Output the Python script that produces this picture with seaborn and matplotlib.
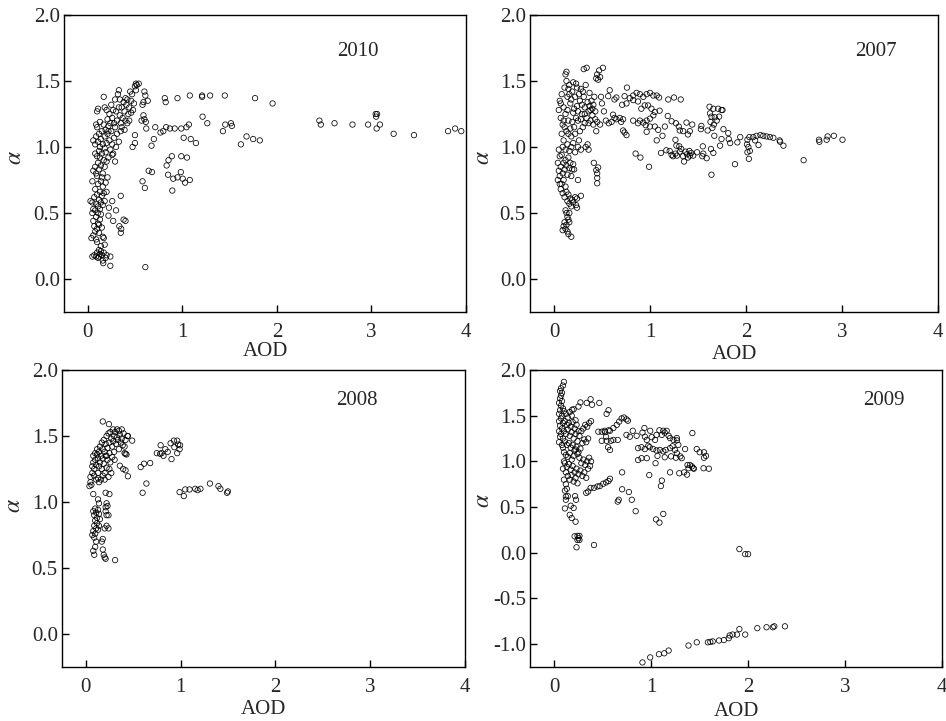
import numpy as np
import pandas as pd
import matplotlib
matplotlib.use("Agg")
import matplotlib.pyplot as plt
import seaborn as sns

# ---------------- data (AOD, alpha) ----------------
aod_2010 = [0.61, 0.24, 0.165, 0.24, 0.35, 0.26, 0.225, 0.30, 0.22, 0.27, 0.38, 0.40, 0.335, 0.355, 0.35,
            0.29, 0.58, 0.605, 0.645, 0.68, 0.675, 0.70, 0.475, 0.50, 0.50, 0.715, 0.62, 0.77, 0.80, 0.83,
            0.87, 0.92, 0.99, 1.045, 1.07, 0.815, 0.825, 0.95, 1.08, 1.21, 1.21, 1.295, 1.45, 1.77, 1.955,
            1.215, 1.265, 1.43, 1.455, 1.515, 1.525, 1.015, 1.09, 1.145, 1.62, 1.68, 1.75, 1.82, 0.835, 0.855,
            0.89, 0.99, 1.05, 0.985, 0.85, 0.905, 0.95, 1.005, 1.03, 1.08, 0.895, 2.45, 2.465, 2.61, 2.80,
            2.965, 3.045, 3.06, 3.05, 3.055, 3.09, 3.235, 3.45, 3.81, 3.885, 3.95, 0.59, 0.58, 0.59, 0.60,
            0.57, 0.615, 0.60, 0.61, 0.635, 0.54, 0.51,
            0.07, 0.09, 0.10, 0.11, 0.12, 0.13, 0.14, 0.15, 0.17, 0.19, 0.12, 0.16, 0.18, 0.20, 0.05, 0.14,
            0.04, 0.06, 0.08, 0.09, 0.10, 0.11, 0.07, 0.12, 0.13, 0.09, 0.06, 0.15, 0.16, 0.14, 0.11, 0.08,
            0.05, 0.10, 0.17, 0.12,
            0.03, 0.05, 0.06, 0.07, 0.09, 0.10, 0.11, 0.12, 0.13, 0.14, 0.15, 0.16, 0.17, 0.18, 0.08, 0.11,
            0.14, 0.19, 0.13, 0.20, 0.05, 0.10, 0.16,
            0.06, 0.08, 0.09, 0.11, 0.12, 0.13, 0.14, 0.15, 0.16, 0.17, 0.18, 0.19, 0.20, 0.21, 0.10, 0.12,
            0.22, 0.08, 0.15, 0.18,
            0.06, 0.08, 0.09, 0.10, 0.11, 0.12, 0.13, 0.14, 0.15, 0.16, 0.17, 0.18, 0.19, 0.20, 0.21, 0.22,
            0.23, 0.24, 0.25, 0.26, 0.27, 0.28, 0.29, 0.30, 0.31, 0.33, 0.35, 0.26, 0.09, 0.13,
            0.10, 0.11, 0.17, 0.18, 0.20, 0.21, 0.23, 0.25, 0.26, 0.28, 0.30, 0.31, 0.32, 0.33, 0.33, 0.34,
            0.35, 0.36, 0.37, 0.38, 0.39, 0.40, 0.41, 0.42, 0.43, 0.44, 0.45, 0.46, 0.47, 0.48, 0.49, 0.50,
            0.51, 0.52, 0.36, 0.39, 0.42, 0.44, 0.29, 0.27, 0.24, 0.22, 0.34, 0.40, 0.46]
alpha_2010 = [0.09, 0.10, 0.12, 0.17, 0.63, 0.59, 0.54, 0.52, 0.48, 0.44, 0.45, 0.44, 0.40, 0.38, 0.35,
              0.89, 0.74, 0.69, 0.82, 0.81, 1.01, 1.06, 1.00, 1.03, 1.09, 1.15, 1.14, 1.11, 1.12, 1.15,
              1.14, 1.14, 1.14, 1.15, 1.17, 1.37, 1.34, 1.37, 1.39, 1.38, 1.39, 1.39, 1.39, 1.37, 1.33,
              1.23, 1.18, 1.12, 1.17, 1.18, 1.16, 1.07, 1.06, 1.03, 1.02, 1.08, 1.06, 1.05, 0.86, 0.90,
              0.93, 0.93, 0.92, 0.81, 0.79, 0.76, 0.77, 0.76, 0.73, 0.75, 0.67, 1.20, 1.17, 1.18, 1.17,
              1.17, 1.25, 1.25, 1.23, 1.14, 1.17, 1.10, 1.09, 1.12, 1.14, 1.12, 1.34, 1.32, 1.24, 1.21,
              1.20, 1.19, 1.42, 1.39, 1.35, 1.48, 1.48,
              0.18, 0.17, 0.20, 0.16, 0.22, 0.19, 0.25, 0.18, 0.20, 0.16, 0.17, 0.14, 0.26, 0.18, 0.17, 0.21,
              0.31, 0.33, 0.36, 0.30, 0.38, 0.42, 0.40, 0.35, 0.45, 0.47, 0.44, 0.39, 0.32, 0.49, 0.50, 0.52,
              0.50, 0.28, 0.31, 0.41,
              0.59, 0.58, 0.53, 0.62, 0.57, 0.64, 0.55, 0.60, 0.66, 0.58, 0.63, 0.70, 0.65, 0.59, 0.68, 0.72,
              0.74, 0.73, 0.53, 0.66, 0.74, 0.78, 0.56,
              0.82, 0.85, 0.80, 0.88, 0.83, 0.92, 0.86, 0.95, 0.80, 0.90, 0.85, 0.96, 0.89, 0.77, 0.93, 0.97,
              0.92, 0.95, 0.77, 0.99,
              1.05, 1.02, 1.08, 1.15, 1.04, 1.10, 1.00, 1.06, 1.12, 1.02, 1.17, 1.08, 1.13, 1.03, 1.10, 1.16,
              1.05, 0.98, 1.12, 1.02, 0.95, 1.07, 1.15, 1.00, 1.10, 1.04, 1.12, 0.94, 1.17, 1.19,
              1.27, 1.29, 1.38, 1.30, 1.28, 1.21, 1.25, 1.32, 1.22, 1.18, 1.27, 1.20, 1.40, 1.43, 1.30, 1.24,
              1.18, 1.30, 1.22, 1.34, 1.27, 1.20, 1.32, 1.36, 1.25, 1.30, 1.42, 1.35, 1.40, 1.28, 1.33, 1.46,
              1.43, 1.47, 1.15, 1.13, 1.18, 1.20, 1.36, 1.28, 1.18, 1.12, 1.36, 1.37, 1.26]

aod_2007 = [3.005, 2.915, 2.85, 2.84, 2.76, 2.765, 2.60, 2.39, 2.355, 2.35, 2.285, 2.215, 2.18, 2.15, 2.11,
            2.075, 2.035, 2.015, 2.01, 2.025, 2.04, 2.015, 2.03, 2.13, 2.095, 2.25, 1.91, 1.94, 1.885, 1.835,
            1.82, 1.815, 1.765, 1.745, 1.73, 1.64, 1.66, 1.635, 1.59, 1.55, 1.555, 1.545, 1.60, 1.535, 1.67,
            1.62, 1.66, 1.71, 1.745, 1.755, 1.625, 1.64, 1.675, 1.72, 1.63, 1.665, 1.695, 1.65,
            1.115, 1.17, 1.205, 1.225, 1.24, 1.265, 1.28, 1.31, 1.325, 1.345, 1.355, 1.37, 1.385, 1.395, 1.415,
            1.43, 1.45, 1.49, 1.275, 1.265, 1.305, 1.41,
            0.99, 0.85, 0.90, 1.07, 1.13, 1.155, 1.185, 1.19, 1.25, 1.32, 1.225, 1.27, 1.31, 1.345, 1.38,
            1.395, 1.415, 1.44, 1.53, 1.30,
            0.76, 0.735, 0.79, 0.825, 0.86, 0.895, 0.93, 0.965, 1.0, 1.035, 1.07, 1.095, 0.71, 0.755, 0.825,
            0.875, 0.91, 0.945, 0.98, 1.015, 1.05, 1.10, 1.035, 1.0, 0.965, 0.93, 0.895, 0.955, 1.0, 0.965,
            1.05, 1.085, 0.875, 0.825, 0.72, 0.70, 0.72, 0.735, 0.755, 0.685, 0.65, 0.615, 0.63, 0.65, 0.58,
            0.565,
            0.415, 0.44, 0.46, 0.45, 0.45, 0.45, 0.44,
            0.05, 0.06, 0.04, 0.07, 0.05, 0.06, 0.04, 0.08, 0.07, 0.09, 0.10, 0.11, 0.12, 0.13, 0.14, 0.15,
            0.16, 0.17, 0.19, 0.20, 0.08, 0.10, 0.12, 0.09, 0.11, 0.13, 0.14, 0.15, 0.16, 0.17, 0.18, 0.19,
            0.20, 0.22, 0.23, 0.24, 0.28, 0.12, 0.13, 0.14, 0.15, 0.11, 0.10, 0.12, 0.13, 0.16, 0.14, 0.15,
            0.18, 0.09, 0.16, 0.24, 0.25, 0.06, 0.18, 0.21,
            0.05, 0.06, 0.07, 0.08, 0.09, 0.10, 0.11, 0.12, 0.12, 0.13, 0.13, 0.14, 0.15, 0.16, 0.17, 0.18,
            0.19, 0.20, 0.21, 0.22, 0.23, 0.24, 0.25, 0.26, 0.27, 0.28, 0.29, 0.30, 0.31, 0.32, 0.33, 0.34,
            0.35, 0.36, 0.37, 0.38, 0.39, 0.40, 0.41, 0.42, 0.43, 0.44, 0.45, 0.46, 0.47, 0.48, 0.51, 0.31,
            0.34, 0.49, 0.50, 0.52, 0.54, 0.57, 0.60, 0.63, 0.45, 0.48, 0.38, 0.41, 0.09, 0.10, 0.12, 0.14,
            0.16, 0.18, 0.20, 0.22, 0.25, 0.28, 0.33, 0.35, 0.36, 0.15, 0.17, 0.19, 0.21, 0.23, 0.26, 0.29,
            0.11, 0.08, 0.07, 0.10, 0.14, 0.18, 0.22, 0.27, 0.32, 0.36, 0.40, 0.43, 0.30, 0.24, 0.20, 0.16,
            0.13, 0.15, 0.25, 0.32, 0.37, 0.28]
alpha_2007 = [1.055, 1.085, 1.08, 1.055, 1.055, 1.04, 0.90, 1.01, 1.04, 1.05, 1.07, 1.08, 1.085, 1.09, 1.085,
              1.075, 1.075, 1.055, 1.02, 1.0, 0.97, 0.96, 0.91, 1.015, 1.05, 1.075, 1.035, 1.075, 0.87, 1.03,
              1.06, 1.105, 1.135, 1.06, 1.01, 0.79, 0.955, 0.985, 0.915, 1.005, 0.95, 0.93, 1.125, 1.16, 1.085,
              1.305, 1.29, 1.29, 1.28, 1.28, 1.255, 1.23, 1.225, 1.23, 1.19, 1.17, 1.20, 1.145,
              0.955, 0.975, 0.97, 0.94, 0.93, 0.95, 0.935, 0.965, 0.985, 0.93, 0.89, 0.965, 0.945, 0.92, 0.935,
              0.955, 0.935, 0.96, 1.01, 1.055, 1.005, 0.97,
              0.85, 0.95, 0.92, 1.05, 1.085, 1.155, 1.235, 1.36, 1.375, 1.36, 1.195, 1.18, 1.125, 1.12, 1.185,
              1.095, 1.12, 1.17, 1.135, 1.155,
              1.45, 1.385, 1.37, 1.39, 1.41, 1.40, 1.38, 1.40, 1.41, 1.39, 1.39, 1.375, 1.32, 1.33, 1.355,
              1.345, 1.29, 1.315, 1.315, 1.29, 1.265, 1.275, 1.24, 1.215, 1.20, 1.185, 1.20, 1.165, 1.155, 1.115,
              1.155, 1.13, 1.18, 1.20, 1.21, 1.19, 1.125, 1.11, 1.09, 1.22, 1.21, 1.245, 1.36, 1.375, 1.43,
              1.385,
              0.88, 0.825, 0.845, 0.80, 0.765, 0.725, 1.12,
              0.98, 0.93, 0.88, 0.85, 0.82, 0.78, 0.75, 0.72, 0.68, 0.80, 0.88, 0.83, 0.90, 0.86, 0.79, 0.92,
              0.84, 0.88, 0.83, 0.87, 0.94, 0.75, 0.70, 0.65, 0.62, 0.66, 0.59, 0.64, 0.57, 0.61, 0.55, 0.60,
              0.58, 0.62, 0.56, 0.61, 0.63, 0.52, 0.50, 0.47, 0.45, 0.43, 0.40, 0.38, 0.41, 0.43, 0.36, 0.34,
              0.32, 0.37, 0.50, 0.54, 0.75, 0.72, 0.78, 0.83,
              1.28, 1.35, 1.22, 1.40, 1.17, 1.30, 1.45, 1.55, 1.25, 1.50, 1.12, 1.38, 1.20, 1.47, 1.33, 1.08,
              1.42, 1.26, 1.15, 1.38, 1.48, 1.31, 1.20, 1.05, 1.35, 1.44, 1.25, 1.15, 1.38, 1.30, 1.47, 1.22,
              1.34, 1.18, 1.41, 1.28, 1.35, 1.24, 1.32, 1.38, 1.27, 1.52, 1.55, 1.51, 1.58, 1.53, 1.60, 1.59,
              1.60, 1.38, 1.33, 1.27, 1.20, 1.18, 1.19, 1.22, 1.19, 1.17, 1.20, 1.17, 1.00, 1.05, 0.98, 1.02,
              0.97, 1.00, 1.03, 0.96, 1.00, 0.98, 1.00, 1.02, 0.98, 1.10, 1.14, 1.19, 1.29, 1.22, 1.40, 1.32,
              1.15, 1.10, 1.33, 1.20, 1.28, 1.36, 1.10, 1.12, 1.18, 1.27, 1.29, 1.21, 1.42, 1.45, 1.49, 1.40,
              1.57, 1.44, 1.27, 1.25, 1.31, 1.21]

aod_2008 = [0.31, 1.50, 1.49, 1.42, 1.40, 1.31, 1.21, 1.18, 1.155, 1.095, 1.05, 1.035, 0.99, 0.60, 0.64,
            0.58, 0.615, 0.68, 0.75, 0.79, 0.80, 0.82, 0.84, 0.865, 0.905, 0.895, 0.93, 0.965, 0.975, 0.995,
            0.99, 0.965, 0.935, 0.785, 0.49, 0.445, 0.445, 0.42, 0.395, 0.36, 0.42, 0.41, 0.305, 0.18, 0.245,
            0.04, 0.05, 0.05, 0.06, 0.07, 0.07, 0.08, 0.08, 0.09, 0.09, 0.10, 0.10, 0.11, 0.11, 0.12, 0.12,
            0.13, 0.13, 0.14, 0.14, 0.15, 0.15, 0.16, 0.16, 0.17, 0.17, 0.18, 0.18, 0.19, 0.19, 0.20, 0.20,
            0.21, 0.21, 0.22, 0.22, 0.23, 0.23, 0.24, 0.24, 0.25, 0.25, 0.26, 0.26, 0.27, 0.27, 0.28, 0.28,
            0.29, 0.29, 0.30, 0.30, 0.31, 0.32, 0.33, 0.33, 0.34, 0.35, 0.35, 0.36, 0.37, 0.38, 0.38, 0.39,
            0.40, 0.41, 0.42, 0.43, 0.44, 0.13, 0.14, 0.18, 0.20, 0.22, 0.25,
            0.08, 0.21, 0.25, 0.13, 0.14, 0.08, 0.09, 0.10, 0.11, 0.12, 0.13, 0.14, 0.15, 0.10, 0.09, 0.11,
            0.12, 0.08, 0.10, 0.13, 0.14, 0.07, 0.09, 0.11, 0.10, 0.08, 0.09, 0.18, 0.19, 0.20, 0.21, 0.17,
            0.20, 0.22, 0.24, 0.21, 0.22, 0.23, 0.21, 0.22, 0.24, 0.18]
alpha_2008 = [0.56, 1.08, 1.07, 1.10, 1.12, 1.14, 1.10, 1.09, 1.10, 1.095, 1.095, 1.045, 1.075, 1.07, 1.14,
              1.265, 1.29, 1.295, 1.37, 1.43, 1.37, 1.35, 1.40, 1.38, 1.325, 1.445, 1.465, 1.465, 1.435, 1.43,
              1.40, 1.37, 1.415, 1.365, 1.465, 1.50, 1.195, 1.24, 1.25, 1.275, 1.365, 1.42, 1.32, 1.61, 1.59,
              1.12, 1.15, 1.19, 1.13, 1.22, 1.27, 1.30, 1.35, 1.20, 1.25, 1.37, 1.32, 1.17, 1.28, 1.40, 1.36,
              1.22, 1.33, 1.38, 1.27, 1.42, 1.30, 1.17, 1.35, 1.45, 1.25, 1.40, 1.33, 1.47, 1.29, 1.38, 1.22,
              1.44, 1.35, 1.50, 1.26, 1.41, 1.32, 1.52, 1.19, 1.45, 1.37, 1.53, 1.30, 1.48, 1.22, 1.42, 1.34,
              1.55, 1.46, 1.50, 1.38, 1.53, 1.44, 1.55, 1.49, 1.47, 1.54, 1.40, 1.51, 1.45, 1.55, 1.48, 1.43,
              1.52, 1.37, 1.47, 1.36, 1.50, 1.18, 1.15, 1.20, 1.17, 1.35, 1.25,
              1.06, 1.07, 1.06, 1.02, 0.99, 0.93, 0.90, 0.95, 0.92, 0.88, 0.94, 0.91, 0.87, 0.86, 0.82, 0.80,
              0.84, 0.78, 0.76, 0.79, 0.82, 0.75, 0.73, 0.70, 0.66, 0.63, 0.60, 0.64, 0.60, 0.58, 0.57, 0.70,
              0.80, 0.82, 0.80, 0.93, 0.99, 0.97, 0.96, 0.90, 0.90, 0.72]

aod_2009 = [0.91, 0.99, 1.08, 1.135, 1.18, 1.385, 1.47, 1.585, 1.61, 1.635, 1.70, 1.75, 1.80, 1.81, 1.84,
            1.885, 1.91, 1.97, 2.095, 2.19, 2.255, 2.27, 2.38, 1.91, 1.97, 2.0,
            0.41, 0.23, 0.25, 0.24, 0.26, 0.24, 0.26, 0.21, 0.22, 0.18, 0.16, 0.20, 0.17, 0.11, 0.12, 0.225,
            0.12, 0.215, 0.655, 0.665, 0.70, 0.77, 0.80, 0.84, 1.05, 1.085, 1.125, 1.10, 1.11, 1.045, 0.98,
            0.70, 1.195,
            0.33, 0.35, 0.375, 0.41, 0.445, 0.47, 0.505, 0.535, 0.56, 0.575,
            1.29, 1.34, 1.37, 1.385, 1.40, 1.42, 1.435, 1.44, 1.54, 1.595, 1.375, 1.425, 1.47, 1.50, 1.545,
            1.565, 1.545, 1.35, 1.265,
            0.465, 0.56, 0.54, 0.375, 0.39, 0.335, 0.27, 0.25, 0.185,
            0.695, 0.72, 0.745, 0.76, 0.67, 0.645, 0.61, 0.575, 0.52, 0.49, 0.455, 0.54, 0.585, 0.61, 0.655,
            0.555, 0.575, 0.49, 0.525, 0.56, 0.535,
            0.745, 0.78, 0.81, 0.85, 0.93, 0.91, 0.935, 0.955, 0.99, 1.005, 1.04, 1.055, 1.085, 1.11, 1.125,
            1.14, 1.16, 1.18, 1.195, 1.23, 1.265, 1.28,
            0.865, 0.90, 0.935, 0.97, 0.985, 1.02, 1.055, 1.09, 1.125, 1.15, 1.195, 1.22, 1.245, 1.265, 1.30,
            1.315, 0.865, 0.90, 0.955, 1.065, 1.14, 1.205, 1.255,
            0.10, 0.09, 0.07, 0.06, 0.08, 0.07, 0.06, 0.08, 0.05, 0.07, 0.09, 0.06, 0.05, 0.08, 0.07, 0.05,
            0.09, 0.06, 0.08, 0.05, 0.07, 0.06, 0.09, 0.05, 0.08,
            0.10, 0.12, 0.14, 0.16, 0.18, 0.20, 0.22, 0.11, 0.13, 0.15, 0.17, 0.19, 0.21, 0.23, 0.25, 0.10,
            0.12, 0.14, 0.16, 0.18, 0.20, 0.22, 0.24, 0.26, 0.28, 0.30, 0.32, 0.34, 0.36, 0.38, 0.11, 0.13,
            0.15, 0.17, 0.19, 0.21, 0.23, 0.25, 0.27, 0.29, 0.31, 0.33, 0.35, 0.10, 0.12, 0.14, 0.16, 0.18,
            0.20, 0.22, 0.24, 0.26, 0.28, 0.30, 0.32, 0.34, 0.36, 0.38, 0.11, 0.13, 0.15, 0.17, 0.19, 0.21,
            0.23, 0.25, 0.27, 0.29, 0.31, 0.33, 0.35, 0.37, 0.12, 0.14, 0.16, 0.18, 0.20, 0.22, 0.24, 0.10,
            0.12, 0.13, 0.11, 0.14, 0.09, 0.10, 0.09]
alpha_2009 = [-1.20, -1.145, -1.11, -1.10, -1.07, -1.015, -0.98, -0.98, -0.975, -0.97, -0.96, -0.955, -0.935,
              -0.905, -0.895, -0.895, -0.835, -0.895, -0.825, -0.815, -0.815, -0.805, -0.805, 0.04, -0.015,
              -0.015,
              0.085, 0.06, 0.16, 0.185, 0.185, 0.14, 0.14, 0.18, 0.34, 0.38, 0.415, 0.49, 0.515, 0.485, 0.58,
              0.58, 0.615, 0.62, 0.56, 0.58, 0.695, 0.665, 0.58, 0.455, 0.365, 0.33, 0.425, 0.73, 0.79, 0.98,
              0.85, 0.88, 0.88,
              0.655, 0.67, 0.71, 0.71, 0.725, 0.73, 0.755, 0.77, 0.785, 0.81,
              0.87, 0.88, 0.855, 0.925, 0.96, 0.945, 0.925, 0.92, 0.925, 0.92, 0.96, 1.31, 1.135, 1.10, 1.10,
              1.06, 1.04, 1.135, 1.23,
              1.64, 1.56, 1.52, 1.68, 1.62, 1.64, 1.645, 1.60, 1.565,
              1.47, 1.48, 1.46, 1.445, 1.435, 1.40, 1.365, 1.335, 1.335, 1.325, 1.325, 1.225, 1.225, 1.235,
              1.235, 1.155, 1.125, 1.225, 1.32, 1.34, 1.27,
              1.29, 1.27, 1.335, 1.28, 1.365, 1.315, 1.27, 1.235, 1.335, 1.265, 1.235, 1.29, 1.34, 1.29, 1.335,
              1.315, 1.335, 1.28, 1.255, 1.235, 1.255, 1.18,
              1.145, 1.155, 1.135, 1.17, 1.155, 1.135, 1.12, 1.125, 1.11, 1.125, 1.145, 1.165, 1.125, 1.09,
              1.055, 1.035, 1.015, 1.035, 1.035, 1.06, 1.045, 1.055, 1.04,
              1.87, 1.83, 1.80, 1.77, 1.75, 1.72, 1.69, 1.66, 1.64, 1.61, 1.58, 1.56, 1.52, 1.50, 1.47, 1.44,
              1.42, 1.39, 1.36, 1.33, 1.30, 1.27, 1.25, 1.21, 1.18,
              1.55, 1.52, 1.48, 1.54, 1.50, 1.57, 1.45, 1.44, 1.40, 1.42, 1.38, 1.43, 1.36, 1.40, 1.33, 1.33,
              1.30, 1.35, 1.28, 1.32, 1.25, 1.30, 1.22, 1.28, 1.33, 1.36, 1.40, 1.38, 1.42, 1.44, 1.22, 1.18,
              1.20, 1.15, 1.18, 1.12, 1.16, 1.10, 1.14, 1.20, 1.24, 1.21, 1.25, 1.10, 1.07, 1.05, 1.09, 1.02,
              1.06, 1.13, 1.08, 1.04, 0.98, 1.02, 0.96, 1.00, 1.04, 1.00, 0.98, 0.94, 0.97, 0.91, 0.95, 0.88,
              0.92, 0.86, 0.90, 0.84, 0.88, 0.82, 0.92, 0.95, 0.88, 0.84, 0.80, 0.85, 0.78, 0.82, 0.76, 0.80,
              0.75, 0.70, 0.68, 0.62, 0.92, 1.00, 1.15]

years = ["2010", "2007", "2008", "2009"]
aod_series = [aod_2010, aod_2007, aod_2008, aod_2009]
alpha_series = [alpha_2010, alpha_2007, alpha_2008, alpha_2009]
x_ticks = [0, 1, 2, 3, 4]
y_ticks_top = [0.0, 0.5, 1.0, 1.5, 2.0]
y_ticks_2009 = [-1.0, -0.5, 0.0, 0.5, 1.0, 1.5, 2.0]

# ---------------- styling ----------------
sns.set_style("ticks")
plt.rcParams["font.family"] = ["Liberation Serif", "DejaVu Serif"]
plt.rcParams["mathtext.fontset"] = "stix"
plt.rcParams["axes.linewidth"] = 1.0

fig = plt.figure(figsize=(9.46, 7.21), dpi=100)

W, H = 946, 721
boxes = [(64, 15, 466, 312), (530, 15, 938, 312), (62, 370, 465, 667), (530, 370, 942, 667)]
ylims = [(-0.25, 2.0), (-0.25, 2.0), (-0.25, 2.0), (-1.25, 2.0)]
yticks_all = [y_ticks_top, y_ticks_top, y_ticks_top, y_ticks_2009]
year_pos = [(2.86, 1.72), (3.35, 1.72), (2.855, 1.77), (3.40, 1.666)]
ylabel_x = [-0.094, -0.088, -0.092, -0.088]
ylabel_y = [0.52, 0.52, 0.545, 0.56]
xlabel_y = [-0.100, -0.110, -0.110, -0.118]

for i in range(4):
    l, t, r, b = boxes[i]
    ax = fig.add_axes([l / W, 1 - b / H, (r - l) / W, (b - t) / H])
    df = pd.DataFrame({"AOD": aod_series[i], "alpha": alpha_series[i]})
    sns.scatterplot(data=df, x="AOD", y="alpha", ax=ax, marker="o", s=15,
                    facecolor="none", edgecolor="black", linewidth=0.55, legend=False)
    ax.set_xlim(-0.25, 4.0)
    ax.set_ylim(*ylims[i])
    ax.set_xticks(x_ticks)
    ax.set_xticklabels([str(v) for v in x_ticks])
    ax.set_yticks(yticks_all[i])
    ax.set_yticklabels([f"{v:.1f}" for v in yticks_all[i]])
    ax.tick_params(axis="both", direction="in", length=5, width=1.0, labelsize=15, color="black")
    ax.tick_params(axis="x", pad=8)
    ax.tick_params(axis="y", pad=3)
    for sp in ax.spines.values():
        sp.set_visible(True)
        sp.set_color("black")
        sp.set_linewidth(1.0)
    ax.set_xlabel("AOD", fontsize=15)
    ax.set_ylabel(r"$\alpha$", fontsize=17)
    ax.xaxis.set_label_coords(0.5, xlabel_y[i])
    ax.yaxis.set_label_coords(ylabel_x[i], ylabel_y[i])
    ax.text(year_pos[i][0], year_pos[i][1], years[i], fontsize=15, ha="center", va="center")

fig.savefig("out.png", dpi=100)
